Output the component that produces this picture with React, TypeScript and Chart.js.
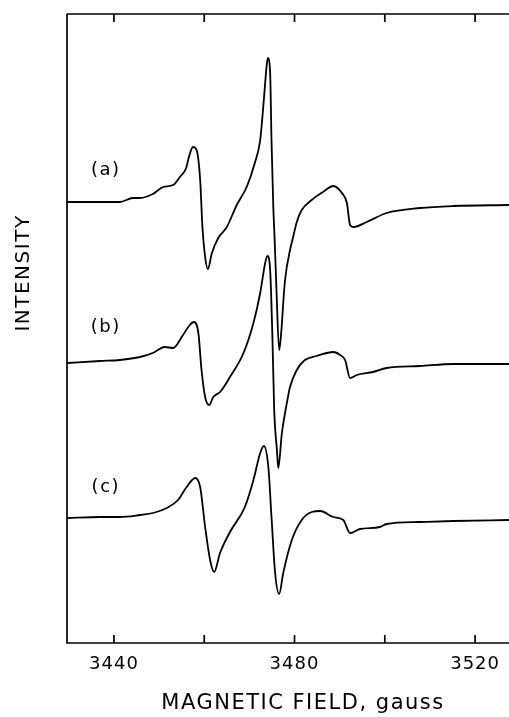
import React, { useEffect, useRef } from "react";
import { Chart, registerables } from "chart.js";

Chart.register(...registerables);

// Magnetic field (gauss) and intensity (arbitrary units, offset traces)
const fieldA = [3429.6, 3436.9, 3441.3, 3444.2, 3445.8, 3448.6, 3450.9, 3453.1, 3454.6, 3456.0, 3456.6, 3457.5, 3458.3, 3459.1, 3459.6, 3460.2, 3460.8, 3461.7, 3463.1, 3465.0, 3467.2, 3469.4, 3471.2, 3472.4, 3473.2, 3473.8, 3474.1, 3474.6, 3474.9, 3475.3, 3475.6, 3476.0, 3476.6, 3477.1, 3477.5, 3477.9, 3479.0, 3479.7, 3480.5, 3481.6, 3483.8, 3486.3, 3488.6, 3490.5, 3491.6, 3492.3, 3493.0, 3496.0, 3500.4, 3507.8, 3515.2, 3527.5];
const intensityA = [441, 441, 441, 445, 445, 449, 456, 458, 466, 475, 486, 496, 493, 463, 416, 386, 374, 390, 405, 416, 438, 456, 480, 503, 543, 576, 585, 570, 503, 436, 403, 353, 293, 313, 340, 363, 393, 406, 421, 433, 443, 451, 457, 450, 440, 418, 416, 421, 430, 435, 437, 438];

const fieldB = [3429.6, 3436.9, 3441.3, 3445.8, 3448.6, 3451.3, 3453.1, 3455.3, 3456.8, 3457.7, 3458.7, 3459.4, 3460.2, 3461.1, 3462.0, 3463.5, 3465.7, 3468.7, 3470.9, 3472.4, 3473.5, 3474.0, 3474.6, 3475.1, 3475.5, 3476.1, 3476.4, 3477.2, 3477.9, 3478.3, 3479.0, 3480.5, 3482.3, 3484.9, 3488.6, 3490.1, 3491.2, 3492.3, 3493.8, 3497.4, 3500.4, 3507.8, 3515.2, 3527.5];
const intensityB = [280, 282, 283, 286, 290, 296, 295, 308, 318, 321, 310, 273, 246, 238, 246, 251, 266, 290, 320, 350, 380, 387, 373, 306, 233, 193, 175, 210, 230, 240, 256, 273, 283, 287, 291, 288, 283, 265, 268, 271, 275, 277, 279, 279];

const fieldC = [3429.6, 3436.9, 3441.3, 3445.8, 3448.7, 3451.7, 3454.2, 3456.1, 3458.0, 3459.1, 3460.2, 3461.3, 3462.2, 3463.5, 3465.7, 3469.0, 3470.9, 3472.4, 3473.2, 3474.2, 3474.9, 3475.7, 3476.6, 3477.5, 3479.4, 3481.6, 3483.8, 3485.7, 3488.6, 3490.8, 3492.3, 3494.5, 3498.9, 3500.4, 3507.8, 3515.2, 3527.5];
const intensityC = [125, 126, 126, 128, 130, 135, 143, 156, 165, 156, 116, 83, 71, 90, 111, 136, 163, 190, 197, 176, 126, 70, 49, 70, 103, 123, 131, 132, 126, 123, 110, 114, 116, 119, 121, 122, 123];

const xTicks = [3440, 3460, 3480, 3500, 3520];
const xLabels = [3440, 3480, 3520];
const traceLabels = ["(a)", "(b)", "(c)"];
const labelField = [3438.2, 3438.2, 3438.2];
const labelIntensity = [473, 316, 156];

const xTitle = "MAGNETIC FIELD, gauss";
const yTitle = "INTENSITY";

const toPoints = (xs: number[], ys: number[]) => xs.map((x, i) => ({ x, y: ys[i] }));

const FONT = "DejaVu Sans";

export default function App() {
  const ref = useRef<HTMLCanvasElement | null>(null);

  useEffect(() => {
    document.body.style.margin = "0";
    const spacingPlugin = {
      id: "spacing",
      beforeDraw(chart: any) {
        (chart.ctx as any).letterSpacing = "1px";
      },
    };
    const framePlugin = {
      id: "frame",
      afterDraw(chart: any) {
        const ctx = chart.ctx as CanvasRenderingContext2D;
        const ca = chart.chartArea;
        const xs = chart.scales.x;
        const ys = chart.scales.y;
        ctx.save();
        ctx.strokeStyle = "#000";
        ctx.lineWidth = 1.7;
        ctx.beginPath();
        ctx.moveTo(ca.left, ca.top);
        ctx.lineTo(ca.right, ca.top);
        ctx.moveTo(ca.left, ca.top);
        ctx.lineTo(ca.left, ca.bottom);
        ctx.lineTo(ca.right, ca.bottom);
        ctx.stroke();
        ctx.beginPath();
        for (const v of xTicks) {
          const px = xs.getPixelForValue(v);
          ctx.moveTo(px, ca.bottom);
          ctx.lineTo(px, ca.bottom - 8);
          ctx.moveTo(px, ca.top);
          ctx.lineTo(px, ca.top + 8);
        }
        ctx.stroke();

        ctx.fillStyle = "#000";
        ctx.font = `18px '${FONT}'`;
        (ctx as any).letterSpacing = "1.5px";
        ctx.textAlign = "center";
        ctx.textBaseline = "middle";
        traceLabels.forEach((t, i) => {
          ctx.fillText(t, xs.getPixelForValue(labelField[i]), ys.getPixelForValue(labelIntensity[i]));
        });

        ctx.font = `21px '${FONT}'`;
        (ctx as any).letterSpacing = "1.5px";
        ctx.fillText(xTitle, 303, 704);

        ctx.translate(24, 273);
        ctx.rotate(-Math.PI / 2);
        ctx.font = `20px '${FONT}'`;
        (ctx as any).letterSpacing = "1.5px";
        ctx.fillText(yTitle, 0, 0);
        ctx.restore();
      },
    };

    const ds = (xs: number[], ys: number[]) => ({
      data: toPoints(xs, ys),
      borderColor: "#000",
      borderWidth: 1.8,
      pointRadius: 0,
      fill: false,
      cubicInterpolationMode: "monotone" as const,
    });

    const chart = new Chart(ref.current as HTMLCanvasElement, {
      type: "line",
      data: {
        datasets: [ds(fieldA, intensityA), ds(fieldB, intensityB), ds(fieldC, intensityC)],
      },
      options: {
        animation: false,
        responsive: false,
        layout: { padding: { left: 67, right: 0, top: 14, bottom: 0 } },
        plugins: { legend: { display: false }, tooltip: { enabled: false } },
        scales: {
          x: {
            type: "linear",
            min: 3429.6,
            max: 3527.5,
            afterBuildTicks: (s: any) => {
              s.ticks = xTicks.map((v) => ({ value: v }));
            },
            afterFit: (s: any) => {
              s.height = 74;
            },
            grid: { display: false, drawTicks: false },
            border: { display: false },
            ticks: {
              autoSkip: false,
              maxRotation: 0,
              padding: 11,
              color: "#000",
              font: { family: FONT, size: 18 },
              callback: (v: any) => (xLabels.includes(Number(v)) ? String(v) : ""),
            },
          },
          y: { display: false, min: 0, max: 629 },
        },
      },
      plugins: [spacingPlugin, framePlugin],
    });
    return () => chart.destroy();
  }, []);

  return (
    <div style={{ position: "fixed", left: 0, top: 0, width: 509, height: 717, background: "#fff" }}>
      <canvas ref={ref} width={509} height={717} style={{ display: "block" }} />
    </div>
  );
}
